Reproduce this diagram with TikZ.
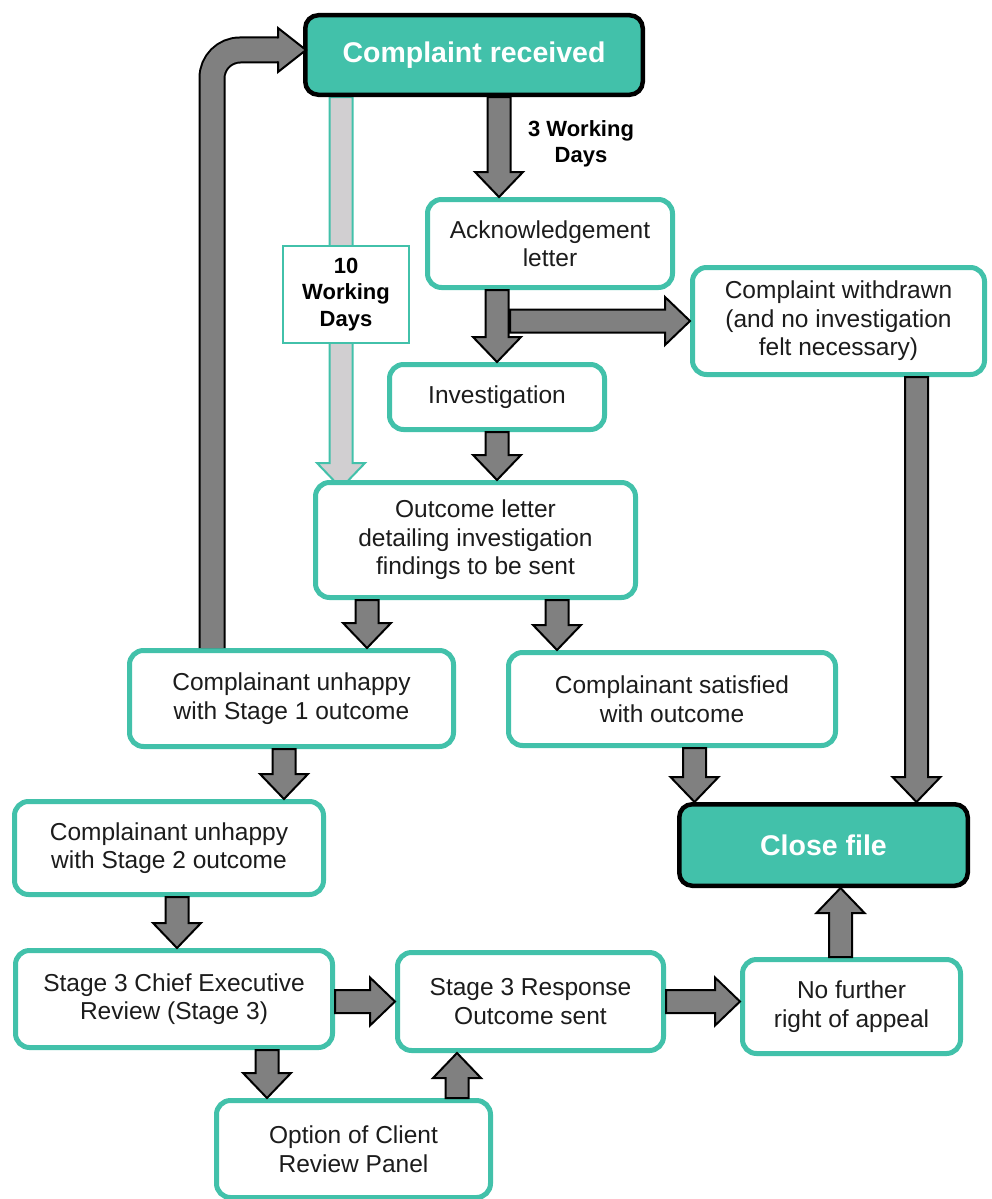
\documentclass[tikz,border=0pt]{standalone}
\usepackage{fontspec}
\setmainfont{Liberation Sans}
\usetikzlibrary{calc,backgrounds}

\definecolor{boxteal}{RGB}{66,193,170}
\definecolor{arrgray}{RGB}{128,128,128}
\definecolor{lightarr}{RGB}{209,207,209}
\definecolor{txtgray}{RGB}{28,28,28}

\newcommand{\boxfont}{\fontsize{24.5}{28.5}\selectfont}
\newcommand{\headfont}{\fontsize{28.5}{32}\selectfont\bfseries}
\newcommand{\daysfont}{\fontsize{22}{26.5}\selectfont\bfseries}

% block arrow: half shaft, half head, head length
\def\shaftw{11.5}
\def\headw{24}
\def\headl{25}
\newcommand{\blkarrow}[3][blk]{%
	\filldraw[#1] let \p1=#2, \p2=#3,
		\n1={veclen(\x2-\x1,\y2-\y1)},
		\n2={(\x2-\x1)/\n1}, \n3={(\y2-\y1)/\n1},
		\n4={\n1-\headl}
	in ({\x1-\shaftw*(\n3)},{\y1+\shaftw*(\n2)})
		-- ({\x1+\n4*(\n2)-\shaftw*(\n3)},{\y1+\n4*(\n3)+\shaftw*(\n2)})
		-- ({\x1+\n4*(\n2)-\headw*(\n3)},{\y1+\n4*(\n3)+\headw*(\n2)})
		-- (\p2)
		-- ({\x1+\n4*(\n2)+\headw*(\n3)},{\y1+\n4*(\n3)-\headw*(\n2)})
		-- ({\x1+\n4*(\n2)+\shaftw*(\n3)},{\y1+\n4*(\n3)-\shaftw*(\n2)})
		-- ({\x1+\shaftw*(\n3)},{\y1-\shaftw*(\n2)}) -- cycle;%
}

\tikzset{
	stepbox/.style={draw=boxteal, line width=5pt, rounded corners=14pt, fill=white,
		align=center, inner sep=0pt, font=\boxfont, text=txtgray},
	endbox/.style={draw=black, line width=4.5pt, rounded corners=13pt, fill=boxteal,
		align=center, inner sep=0pt, font=\headfont, text=white},
	daysbox/.style={draw=boxteal, line width=2pt, fill=white, align=center,
		inner sep=0pt, font=\daysfont},
	blk/.style={fill=arrgray, draw=black, line width=2pt, line join=miter},
	blklight/.style={fill=lightarr, draw=boxteal, line width=2pt, line join=miter},
}

\begin{document}
\begin{tikzpicture}[x=1pt,y=-1pt]
	\useasboundingbox (0,0) rectangle (991,1199);

	\node[endbox, minimum width=337.5, minimum height=79.5] (cr) at (474,55) {Complaint received};
	\node[stepbox, minimum width=245, minimum height=88] (ack) at (550,243.5) {Acknowledgement\\letter};
	\node[stepbox, minimum width=292, minimum height=107] (wd) at (838.5,321)
		{Complaint withdrawn\\(and no investigation\\felt necessary)};
	\node[stepbox, minimum width=215, minimum height=65] (inv) at (497,397) {Investigation};
	\node[stepbox, minimum width=320, minimum height=115] (outl) at (475.5,540)
		{Outcome letter\\detailing investigation\\findings to be sent};
	\node[stepbox, minimum width=324, minimum height=96] (un1) at (291.5,698.5)
		{Complainant unhappy\\with Stage 1 outcome};
	\node[stepbox, minimum width=327, minimum height=93] (sat) at (672,699)
		{Complainant satisfied\\with outcome};
	\node[endbox, minimum width=288.5, minimum height=81.5] (close) at (823.5,845) {Close file};
	\node[stepbox, minimum width=309, minimum height=93] (un2) at (169,848)
		{Complainant unhappy\\with Stage 2 outcome};
	\node[stepbox, minimum width=317, minimum height=97] (st3) at (174,999)
		{Stage 3 Chief Executive\\Review (Stage 3)};
	\node[stepbox, minimum width=266, minimum height=98] (resp) at (530.5,1001.5)
		{Stage 3 Response\\Outcome sent};
	\node[stepbox, minimum width=218, minimum height=94] (nofur) at (851.5,1006.5)
		{No further\\right of appeal};
	\node[stepbox, minimum width=274, minimum height=97] (opt) at (353.5,1149)
		{Option of Client\\Review Panel};

	\node[font=\daysfont, align=center] (days3) at (581,144) {3 Working\\Days};

	% 10 days track behind the boxes
	\begin{pgfonlayer}{background}
		\blkarrow[blklight]{([xshift=-134.5pt]outl.north |- cr.south)}{([xshift=-134.5pt,yshift=-8pt]outl.north)}
	\end{pgfonlayer}
	\node[daysbox, minimum width=126, minimum height=97] (ten) at (346,294.5) {10\\Working\\Days};

	% loop back from stage 1
	\coordinate (lp) at ([xshift=-79.5pt]un1.north);
	\coordinate (hb) at ([xshift=-25pt,yshift=5pt]cr.west);
	\coordinate (ht) at ([xshift=3pt,yshift=5pt]cr.west);
	\draw[line width=27pt, black, rounded corners=28pt] (lp) |- (hb);
	\draw[line width=23pt, arrgray, rounded corners=28pt] (lp) |- (hb);
	\filldraw[blk] ([yshift=11.5pt]hb) -- ([yshift=22pt]hb) -- (ht) -- ([yshift=-22pt]hb) -- ([yshift=-11.5pt]hb);

	\blkarrow{([xshift=-51pt]ack.north |- cr.south)}{([xshift=-51pt]ack.north)}
	\blkarrow{([xshift=13pt]inv.north |- wd.west)}{(wd.west)}
	\blkarrow{(inv.north |- ack.south)}{(inv.north)}
	\blkarrow{(inv.south)}{(inv.south |- outl.north)}
	\blkarrow{([xshift=75.5pt]un1.north |- outl.south)}{([xshift=75.5pt]un1.north)}
	\blkarrow{([xshift=-115pt]sat.north |- outl.south)}{([xshift=-115pt]sat.north)}
	\blkarrow{([xshift=93pt]close.north |- wd.south)}{([xshift=93pt]close.north)}
	\blkarrow{([xshift=-129pt]close.north |- sat.south)}{([xshift=-129pt]close.north)}
	\blkarrow{([xshift=115pt]un2.north |- un1.south)}{([xshift=115pt]un2.north)}
	\blkarrow{([xshift=3pt]st3.north |- un2.south)}{([xshift=3pt]st3.north)}
	\blkarrow{(st3.east |- resp.west)}{(resp.west)}
	\blkarrow{(resp.east)}{(nofur.west |- resp.east)}
	\blkarrow{([xshift=17pt]close.south |- nofur.north)}{([xshift=17pt]close.south)}
	\blkarrow{([xshift=-86.5pt]opt.north |- st3.south)}{([xshift=-86.5pt]opt.north)}
	\blkarrow{([xshift=103.5pt]opt.north)}{([xshift=103.5pt]opt.north |- resp.south)}
\end{tikzpicture}
\end{document}
